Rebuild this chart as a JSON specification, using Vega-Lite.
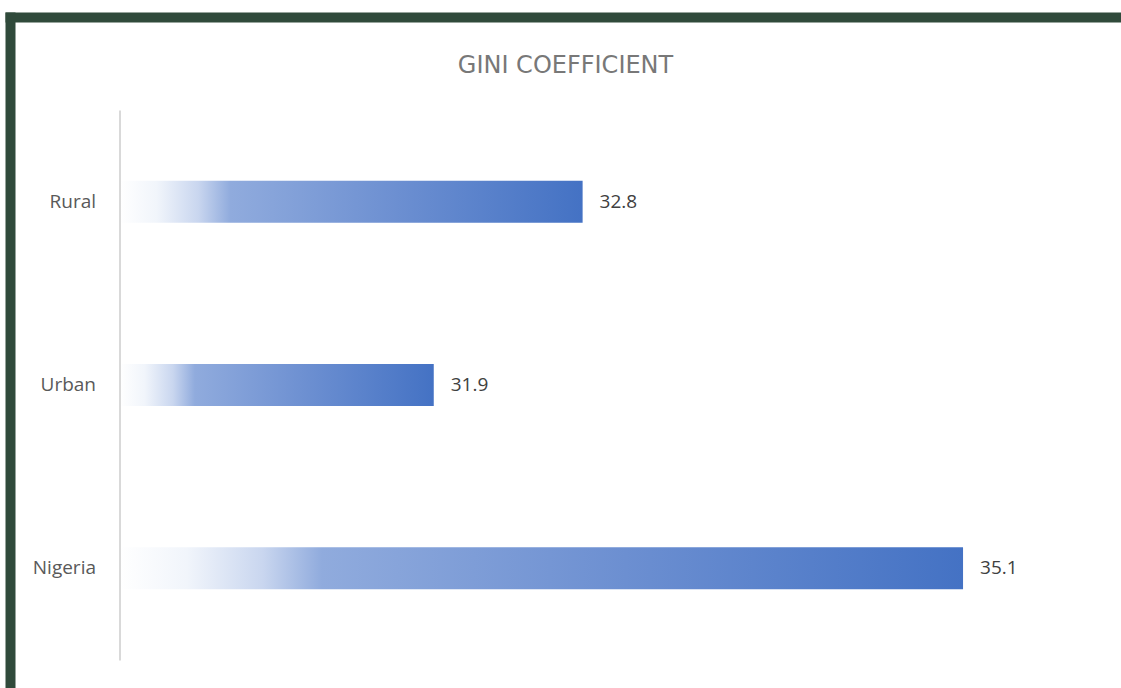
{
  "$schema": "https://vega.github.io/schema/vega-lite/v6.json",
  "autosize": "none",
  "width": 1111,
  "height": 671,
  "padding": {"left": 10, "top": 17, "right": 0, "bottom": 0},
  "background": "white",
  "title": {
    "text": "GINI COEFFICIENT",
    "anchor": "middle",
    "frame": "group",
    "offset": -61,
    "font": "DejaVu Sans",
    "fontSize": 24,
    "fontWeight": "normal",
    "color": "#787878"
  },
  "data": {
    "values": [
      {"region": "Rural", "gini": 32.8},
      {"region": "Urban", "gini": 31.9},
      {"region": "Nigeria", "gini": 35.1}
    ]
  },
  "layer": [
    {
      "encoding": {
        "y": {
          "field": "region",
          "type": "nominal",
          "sort": ["Rural", "Urban", "Nigeria"],
          "scale": {"range": [93, 643], "paddingInner": 0.771, "paddingOuter": 0.3855},
          "axis": {
            "orient": "left",
            "offset": -109.5,
            "title": null,
            "ticks": false,
            "labelPadding": 24,
            "labelFont": "Open Sans",
            "labelFontSize": 19,
            "labelColor": "#595959",
            "domainColor": "#d9d9d9",
            "domainWidth": 2,
            "grid": false,
            "zindex": 1
          }
        }
      },
      "layer": [
        {
          "mark": {
            "type": "bar",
            "fill": {
              "gradient": "linear",
              "x1": 0, "y1": 0, "x2": 1, "y2": 0,
              "stops": [
                {"offset": 0, "color": "#ffffff"},
                {"offset": 0.08, "color": "#f1f5fb"},
                {"offset": 0.17, "color": "#c9d6ef"},
                {"offset": 0.24, "color": "#90abdd"},
                {"offset": 0.6, "color": "#6c8fd1"},
                {"offset": 1, "color": "#4472c4"}
              ]
            }
          },
          "encoding": {
            "x": {
              "field": "gini",
              "type": "quantitative",
              "scale": {"domain": [29.338, 36.055], "zero": false, "nice": false},
              "axis": {
                "orient": "top",
                "title": null,
                "labels": false,
                "ticks": false,
                "grid": false,
                "domainColor": "#304a3b",
                "domainWidth": 10,
                "domainCap": "square"
              }
            },
            "x2": {"datum": 30}
          }
        },
        {
          "mark": {
            "type": "text",
            "align": "left",
            "baseline": "middle",
            "dx": 17,
            "font": "Open Sans",
            "fontSize": 19,
            "color": "#404040"
          },
          "encoding": {
            "x": {"field": "gini", "type": "quantitative"},
            "text": {"field": "gini", "type": "quantitative", "format": ".1f"}
          }
        }
      ]
    },
    {
      "mark": {"type": "bar", "opacity": 0},
      "encoding": {
        "y": {
          "field": "region",
          "type": "nominal",
          "sort": ["Rural", "Urban", "Nigeria"],
          "axis": {
            "orient": "left",
            "offset": 0,
            "title": null,
            "labels": false,
            "ticks": false,
            "grid": false,
            "domainColor": "#304a3b",
            "domainWidth": 10,
            "domainCap": "square"
          }
        }
      }
    }
  ],
  "resolve": {"scale": {"y": "independent"}, "axis": {"y": "independent"}},
  "config": {"view": {"stroke": null}}
}
